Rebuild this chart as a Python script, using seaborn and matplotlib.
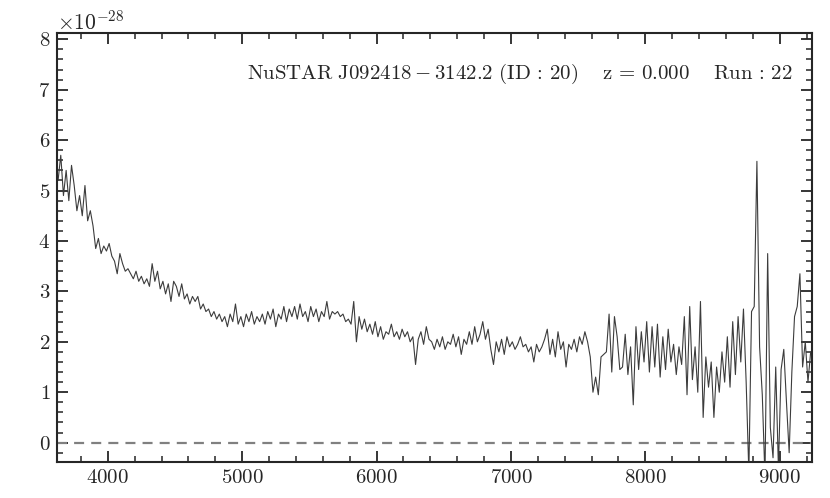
import numpy as np
import pandas as pd
import matplotlib
matplotlib.use("Agg")
import matplotlib.pyplot as plt
from matplotlib.ticker import MultipleLocator
import seaborn as sns

# Wavelength grid (Angstrom), 20 A sampling
wave_start = 3630
wave_stop = 9230
wave_step = 20

# Flux values in units of 1e-28
flux_3630_3990 = [5.2, 5.7, 4.9, 5.4, 4.8, 5.5, 5.1, 4.6, 4.9, 4.5, 5.1, 4.4, 4.6, 4.3, 3.85, 4.05, 3.75, 3.9, 3.8]
flux_4010_4390 = [3.95, 3.7, 3.6, 3.35, 3.75, 3.55, 3.4, 3.45, 3.35, 3.25, 3.4, 3.2, 3.3, 3.15, 3.25, 3.1, 3.55, 3.2, 3.4, 3.05]
flux_4410_4790 = [3.2, 2.95, 3.15, 2.8, 3.2, 3.1, 2.9, 3.15, 2.85, 2.95, 2.75, 2.9, 2.8, 2.9, 2.65, 2.75, 2.6, 2.65, 2.5, 2.6]
flux_4810_5190 = [2.45, 2.55, 2.4, 2.5, 2.3, 2.55, 2.4, 2.75, 2.35, 2.5, 2.3, 2.55, 2.4, 2.6, 2.35, 2.5, 2.4, 2.55, 2.35, 2.6]
flux_5210_5590 = [2.45, 2.65, 2.3, 2.55, 2.45, 2.7, 2.4, 2.65, 2.5, 2.7, 2.45, 2.75, 2.5, 2.6, 2.4, 2.7, 2.5, 2.65, 2.4, 2.6]
flux_5610_5990 = [2.5, 2.8, 2.45, 2.6, 2.55, 2.6, 2.5, 2.55, 2.4, 2.45, 2.35, 2.8, 2.0, 2.5, 2.25, 2.45, 2.2, 2.35, 2.15, 2.4]
flux_6010_6390 = [2.1, 2.3, 2.05, 2.2, 2.15, 2.35, 2.1, 2.2, 2.05, 2.25, 2.1, 2.2, 2.0, 2.1, 1.55, 2.05, 2.2, 1.95, 2.3, 2.05]
flux_6410_6790 = [2.0, 1.85, 2.05, 1.9, 2.1, 1.85, 2.0, 1.95, 2.15, 1.9, 2.1, 1.75, 2.05, 1.95, 2.2, 1.95, 2.3, 2.0, 2.15, 2.4]
flux_6810_7190 = [2.05, 2.25, 1.85, 1.55, 2.0, 1.8, 2.05, 1.75, 2.1, 1.9, 2.0, 1.85, 1.95, 2.1, 1.9, 1.95, 1.8, 1.9, 1.6, 1.95]
flux_7210_7590 = [1.8, 1.9, 2.05, 2.25, 1.75, 2.05, 1.7, 2.2, 1.85, 2.0, 1.5, 1.95, 1.85, 2.05, 1.8, 2.1, 1.95, 2.2, 2.0, 1.7]
flux_7610_7990 = [1.0, 1.3, 0.95, 1.7, 1.75, 1.8, 2.55, 1.4, 2.5, 2.1, 1.45, 1.5, 2.15, 1.35, 1.9, 0.75, 2.3, 1.45, 2.2, 1.6]
flux_8010_8390 = [2.4, 1.4, 2.3, 1.5, 2.35, 1.3, 2.1, 1.45, 2.25, 1.6, 1.95, 1.35, 1.9, 1.55, 2.5, 0.95, 2.7, 1.25, 1.9, 1.0]
flux_8410_8790 = [2.8, 0.5, 1.7, 1.1, 1.6, 0.5, 1.5, 1.0, 1.8, 1.2, 2.1, 1.1, 2.4, 1.35, 2.5, 1.6, 2.65, 1.2, -0.6, 2.6]
flux_8810_9230 = [2.7, 5.58, 1.9, 0.95, -0.7, 3.75, 0.3, -0.3, 1.5, -0.5, 1.45, 1.85, 0.8, -0.2, 1.4, 2.5, 2.7, 3.35, 1.5, 2.0, 1.2, 1.8]

flux_scale = 1e-28
label_text = (r"$\mathrm{NuSTAR\ J092418-3142.2\ (ID\,:\,20)}\quad\ "
              r"\mathrm{z\,=\,0.000}\quad\ \mathrm{Run\,:\,22}$")

wave = np.arange(wave_start, wave_stop + 1, wave_step)
flux = np.concatenate([flux_3630_3990, flux_4010_4390, flux_4410_4790, flux_4810_5190,
                       flux_5210_5590, flux_5610_5990, flux_6010_6390, flux_6410_6790,
                       flux_6810_7190, flux_7210_7590, flux_7610_7990, flux_8010_8390,
                       flux_8410_8790, flux_8810_9230]) * flux_scale
df = pd.DataFrame({"wave": wave, "flux": flux})

sns.set_style("ticks")
plt.rcParams.update({
    "font.family": "serif",
    "font.serif": ["cmr10", "DejaVu Serif"],
    "mathtext.fontset": "cm",
    "axes.formatter.use_mathtext": True,
    "axes.unicode_minus": False,
    "axes.linewidth": 1.5,
})

fig = plt.figure(figsize=(8.3, 4.98), dpi=100)
ax = fig.add_axes([0.069, 0.0717, 0.909, 0.8615])

sns.lineplot(data=df, x="wave", y="flux", ax=ax, color="#3c3c3c", linewidth=0.8,
             estimator=None, sort=False)
ax.axhline(0, color="#808080", linewidth=1.6, linestyle=(0, (4.5, 3.2)), zorder=1)

ax.set_xlim(3624, 9238)
ax.set_ylim(-0.39e-28, 8.12e-28)
ax.xaxis.set_major_locator(MultipleLocator(1000))
ax.xaxis.set_minor_locator(MultipleLocator(200))
ax.yaxis.set_major_locator(MultipleLocator(1e-28))
ax.yaxis.set_minor_locator(MultipleLocator(0.2e-28))
ax.tick_params(which="both", direction="in", top=True, right=True, labelsize=15)
ax.tick_params(which="major", length=8, width=1.3, pad=5)
ax.tick_params(which="minor", length=4.5, width=1.1)
ax.yaxis.get_offset_text().set_fontsize(15.5)
ax.xaxis.label.set_visible(False)
ax.yaxis.label.set_visible(False)

ax.text(0.975, 0.905, label_text, transform=ax.transAxes, ha="right", va="center",
        fontsize=15)

fig.savefig("out.png", dpi=100)
